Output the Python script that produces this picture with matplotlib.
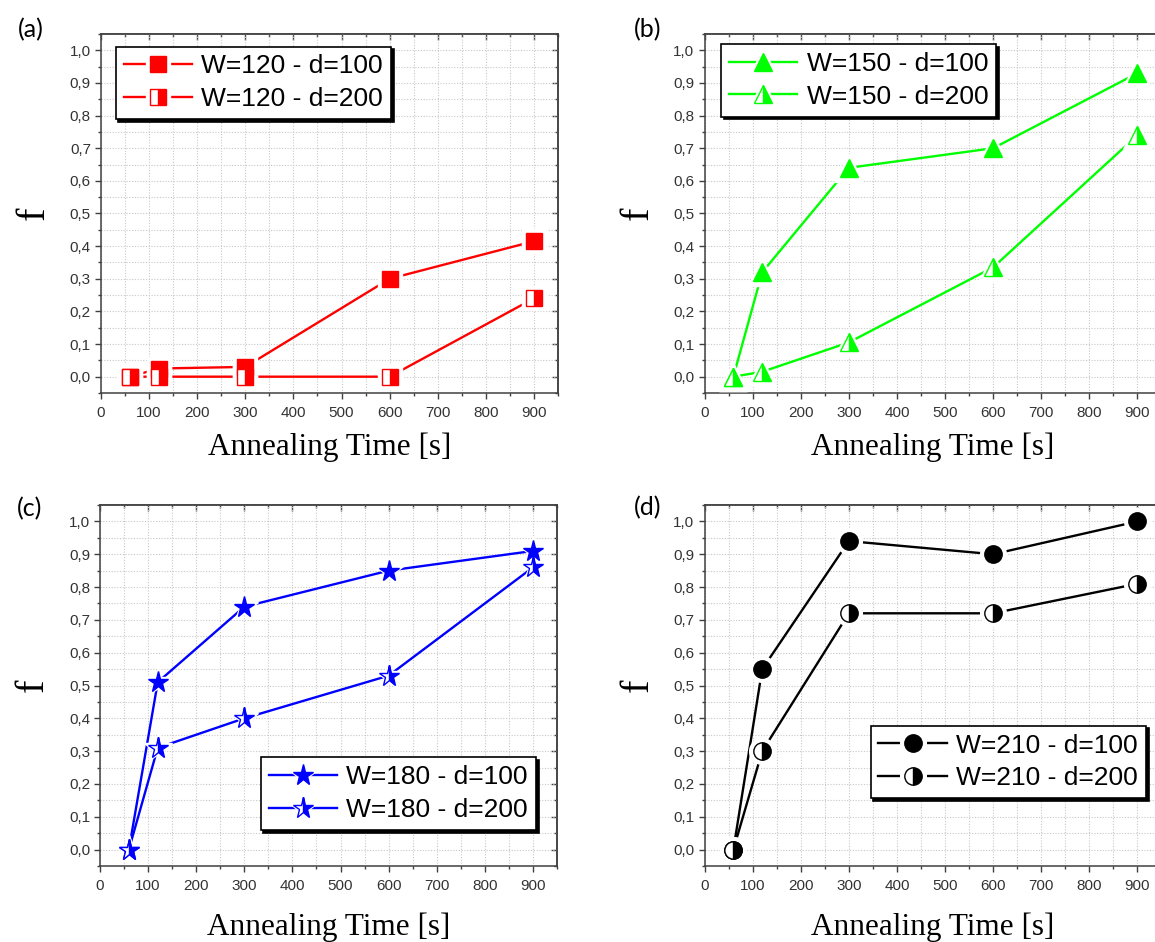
import matplotlib.pyplot as plt
from matplotlib.ticker import MultipleLocator, FuncFormatter
from matplotlib.legend_handler import HandlerTuple

# annealing times [s]
times = [60, 120, 300, 600, 900]

# fraction f
f_w120_d100 = [0.0, 0.025, 0.03, 0.30, 0.415]
f_w120_d200 = [0.0, 0.0, 0.0, 0.0, 0.24]
f_w150_d100 = [0.0, 0.32, 0.64, 0.70, 0.93]
f_w150_d200 = [0.0, 0.015, 0.105, 0.335, 0.74]
f_w180_d100 = [0.0, 0.51, 0.74, 0.85, 0.91]
f_w180_d200 = [0.0, 0.31, 0.40, 0.53, 0.86]
f_w210_d100 = [0.0, 0.55, 0.94, 0.90, 1.0]
f_w210_d200 = [0.0, 0.30, 0.72, 0.72, 0.81]

panel_letters = ["(a)", "(b)", "(c)", "(d)"]
widths = [120, 150, 180, 210]
series_d100 = [f_w120_d100, f_w150_d100, f_w180_d100, f_w210_d100]
series_d200 = [f_w120_d200, f_w150_d200, f_w180_d200, f_w210_d200]

colors = ["#ff0000", "#00ff00", "#0000ff", "#000000"]
markers = ["s", "^", "*", "o"]
msizes = [11.5, 13.5, 15.5, 12.5]

W, H = 1155, 942
# axes boxes in pixels: left, top, width, height
boxes = [(101, 34, 457, 359), (704.5, 34, 457, 359),
         (100, 505, 457, 361), (704.5, 505, 457, 361)]
letter_pos = [(31, 30), (648, 30), (30, 509), (648, 508)]
legend_loc = ["upper left", "upper left", "lower right", "lower right"]
legend_anchor = [(0.032, 0.965), (0.036, 0.972), (0.954, 0.10), (0.966, 0.188)]
xlabel_pad = [9, 9, 14, 14]

tick_color = "#404040"
comma = FuncFormatter(lambda v, p: f"{v:.1f}".replace(".", ","))

fig = plt.figure(figsize=(W / 100, H / 100), dpi=100)

for i in range(4):
    l, t, w, h = boxes[i]
    ax = fig.add_axes([l / W, 1 - (t + h) / H, w / W, h / H])
    c = colors[i]
    m = markers[i]
    ms = msizes[i]

    handles = []
    for k, (vals, fs) in enumerate([(series_d100[i], "full"), (series_d200[i], "right")]):
        ln, = ax.plot(times, vals, color=c, lw=1.7, zorder=2)
        halo, = ax.plot(times, vals, ls="none", marker=m, ms=ms + 6,
                        mfc="white", mec="white", zorder=3)
        mk, = ax.plot(times, vals, ls="none", marker=m, ms=ms, mfc=c,
                      mfcalt="white", fillstyle=fs, mec=c, mew=1.0, zorder=4 + k)
        handles.append((ln, halo, mk))

    labels = [f"W={widths[i]} - d=100", f"W={widths[i]} - d=200"]
    leg = ax.legend(handles, labels,
                    handler_map={tuple: HandlerTuple(ndivide=1, pad=0)},
                    loc=legend_loc[i], bbox_to_anchor=legend_anchor[i],
                    borderaxespad=0, handlelength=2.6,
                    handletextpad=0.35, labelspacing=0.33, borderpad=0.3,
                    fancybox=False, framealpha=1, edgecolor="black",
                    shadow={"color": "black", "alpha": 1.0},
                    prop={"family": "Liberation Sans", "size": 19})
    leg.get_frame().set_linewidth(1.2)

    ax.set_xlim(0, 950)
    ax.set_ylim(-0.05, 1.05)
    ax.xaxis.set_major_locator(MultipleLocator(100))
    ax.xaxis.set_minor_locator(MultipleLocator(50))
    ax.yaxis.set_major_locator(MultipleLocator(0.1))
    ax.yaxis.set_minor_locator(MultipleLocator(0.05))
    ax.yaxis.set_major_formatter(comma)
    ax.grid(True, which="both", ls=(0, (1, 1.5)), color="#c8c8c8", lw=0.8, zorder=0)
    ax.set_axisbelow(True)

    ax.tick_params(which="both", direction="out", colors=tick_color, width=1.0,
                   labelsize=11, labelcolor="#333333")
    ax.tick_params(which="major", length=4.2)
    ax.tick_params(which="minor", length=2.2)
    ax.tick_params(axis="x", pad=5)
    ax.tick_params(axis="y", pad=3)
    for lab in ax.get_xticklabels() + ax.get_yticklabels():
        lab.set_family("Liberation Sans")
    for sp in ax.spines.values():
        sp.set_color(tick_color)
        sp.set_linewidth(1.1)

    # mirrored axes with ticks pointing inwards
    secx = ax.secondary_xaxis("top")
    secx.xaxis.set_major_locator(MultipleLocator(100))
    secx.xaxis.set_minor_locator(MultipleLocator(50))
    secx.tick_params(which="both", direction="in", colors=tick_color, width=1.0,
                     labeltop=False)
    secx.tick_params(which="major", length=4.2)
    secx.tick_params(which="minor", length=2.2)
    secx.spines["top"].set_color(tick_color)
    secx.spines["top"].set_linewidth(1.1)
    secy = ax.secondary_yaxis("right")
    secy.yaxis.set_major_locator(MultipleLocator(0.1))
    secy.yaxis.set_minor_locator(MultipleLocator(0.05))
    secy.tick_params(which="both", direction="in", colors=tick_color, width=1.0,
                     labelright=False)
    secy.tick_params(which="major", length=4.2)
    secy.tick_params(which="minor", length=2.2)
    secy.spines["right"].set_color(tick_color)
    secy.spines["right"].set_linewidth(1.1)

    ax.set_xlabel("Annealing Time [s]", fontsize=22.5, family="Liberation Serif",
                  labelpad=xlabel_pad[i])
    ax.set_ylabel("f", fontsize=29, family="Liberation Serif", labelpad=12)

    fig.text(letter_pos[i][0] / W, 1 - letter_pos[i][1] / H, panel_letters[i],
             fontsize=18, family="Lato", ha="center", va="center")

fig.savefig("out.png", dpi=100)
